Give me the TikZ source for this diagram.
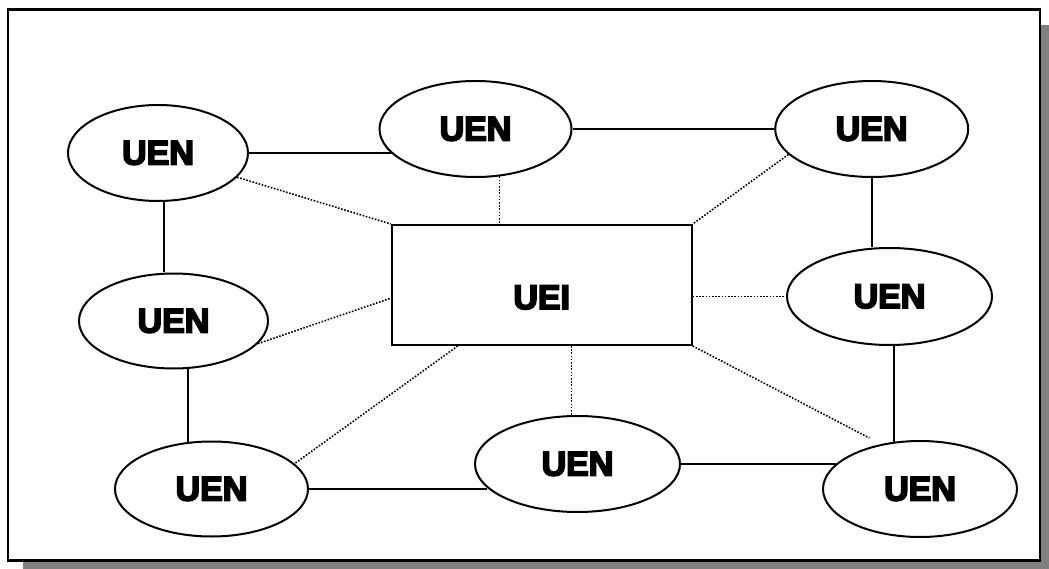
\documentclass[tikz,border=0pt]{standalone}
\usepackage{fontspec}
\newfontfamily\uenfont{Liberation Sans Bold}
\usetikzlibrary{shapes.geometric}
\definecolor{shadowgray}{gray}{0.5}
% heavier lettering: fill and stroke the glyph outlines
\newcommand\heavyword[1]{\special{pdf:literal direct 2 Tr 1.8 w}#1\special{pdf:literal direct 0 Tr}}

\begin{document}
\begin{tikzpicture}[x=1pt, y=-1pt,
  lbl/.style={font=\uenfont\fontsize{34}{34}\selectfont, inner sep=0pt},
  unit/.style={ellipse, draw, line width=2pt, inner sep=0pt, lbl},
  link/.style={line width=1.6pt},
  dots/.style={line width=1.6pt, dash pattern=on 1.6pt off 1.6pt}]

\useasboundingbox (0,0) rectangle (1049,569);

% framed panel with drop shadow
\fill[shadowgray] (23,25) rectangle (1049,569);
\draw[line width=2.5pt, fill=white] (7.8,9.5) rectangle (1040,560.3);

% central unit
\node[draw, line width=2pt, minimum width=300pt, minimum height=120pt, inner sep=0pt] (r) at (541.7,285) {};
\node[lbl] (rt) at ([yshift=-12.5pt]r.center) {\heavyword{UEI}};

% surrounding units
\node[unit, minimum width=180pt, minimum height=96pt] (e1) at (158,153) {\heavyword{UEN}};
\node[unit, minimum width=192pt, minimum height=96pt] (e2) at (475.5,129) {\heavyword{UEN}};
\node[unit, minimum width=193pt, minimum height=96pt] (e3) at (871.7,129) {\heavyword{UEN}};
\node[unit, minimum width=189pt, minimum height=95pt] (e4) at (173.5,321) {\heavyword{UEN}};
\node[unit, minimum width=205pt, minimum height=97pt] (e5) at (889.5,296.5) {\heavyword{UEN}};
\node[unit, minimum width=193pt, minimum height=95pt] (e6) at (211.5,489) {\heavyword{UEN}};
\node[unit, minimum width=205pt, minimum height=96pt] (e7) at (577.5,464) {\heavyword{UEN}};
\node[unit, minimum width=194pt, minimum height=96pt] (e8) at (920,489) {\heavyword{UEN}};

% ring of solid links
\draw[link] (e1.east) -- (e1.east -| e2.196);
\draw[link] (e2.east) -- (e3.west);
\draw[link] (e3.south) -- (e3.south |- e5.north);
\draw[link] (e1.-83) -- (e1.-83 |- e4.north);
\draw[link] (e4.-73) -- (e4.-73 |- e6.117);
\draw[link] (e6.east) -- (e6.east -| e7.195);
\draw[link] (e7.east) -- (e7.east -| e8.163);
\draw[link] (e5.-85) -- (e5.-85 |- e8.117);

% dotted links to the central unit
\draw[dots] (e1.-17) -- (r.north west);
\draw[dots] (e2.-63) -- (e2.-63 |- r.north);
\draw[dots] (e3.197) -- (r.north east);
\draw[dots] (e4.-15) -- (r.185);
\draw[dots] (e5.west -| r.east) -- (e5.west);
\draw[dots] (r.216) -- (e6.17);
\draw[dots] (e7.97 |- r.south) -- (e7.97);
\draw[dots, shorten >=13pt] (r.south east) -- (e8.131);
\end{tikzpicture}
\end{document}
